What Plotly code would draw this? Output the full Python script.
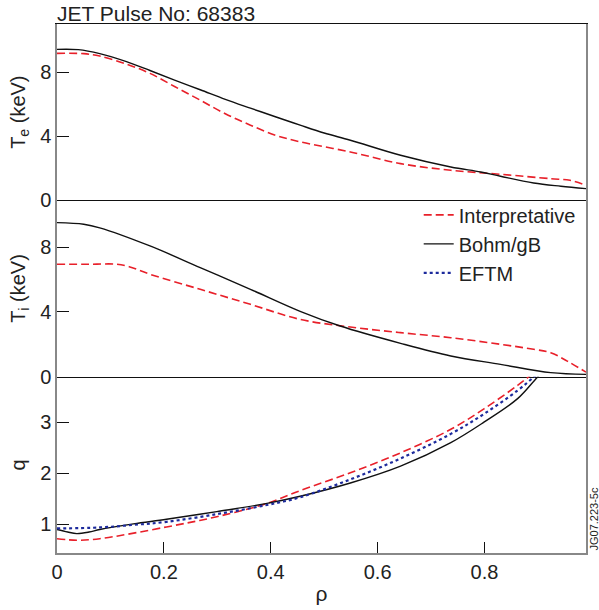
import plotly.graph_objects as go
from plotly.subplots import make_subplots

# ---- data ----
te_bohm_rho = [0, 0.04, 0.08, 0.13, 0.174, 0.22, 0.268, 0.315, 0.362, 0.41, 0.455, 0.5, 0.549, 0.643, 0.737, 0.793, 0.83, 0.892, 0.943, 0.99]
te_bohm = [9.42, 9.4, 9.15, 8.65, 8.1, 7.5, 6.9, 6.3, 5.75, 5.2, 4.69, 4.2, 3.75, 2.81, 2.08, 1.77, 1.5, 1.08, 0.88, 0.73]
te_int_rho = [0, 0.05, 0.08, 0.13, 0.174, 0.22, 0.268, 0.315, 0.362, 0.41, 0.455, 0.549, 0.643, 0.737, 0.83, 0.924, 0.96, 0.99]
te_int = [9.17, 9.15, 9.0, 8.5, 7.92, 7.1, 6.25, 5.4, 4.69, 4.05, 3.65, 3.02, 2.29, 1.875, 1.625, 1.35, 1.25, 0.94]

ti_bohm_rho = [0, 0.05, 0.08, 0.174, 0.268, 0.362, 0.455, 0.53, 0.643, 0.737, 0.83, 0.924, 0.99]
ti_bohm = [9.52, 9.42, 9.2, 8.08, 6.74, 5.4, 4.04, 3.13, 2.06, 1.28, 0.76, 0.25, 0.14]
ti_int_rho = [0, 0.06, 0.112, 0.135, 0.174, 0.268, 0.362, 0.455, 0.549, 0.643, 0.737, 0.83, 0.892, 0.924, 0.955, 0.99]
ti_int = [6.95, 6.95, 6.95, 6.8, 6.33, 5.4, 4.47, 3.54, 3.07, 2.72, 2.41, 2.0, 1.69, 1.48, 0.96, 0.28]

q_bohm_rho = [0, 0.02, 0.037, 0.06, 0.08, 0.143, 0.205, 0.299, 0.393, 0.455, 0.549, 0.643, 0.737, 0.799, 0.862, 0.899, 0.92]
q_bohm = [0.90, 0.85, 0.82, 0.85, 0.90, 1.01, 1.10, 1.25, 1.41, 1.55, 1.81, 2.14, 2.60, 3.0, 3.46, 3.88, 4.1]
q_int_rho = [0, 0.037, 0.08, 0.205, 0.299, 0.393, 0.455, 0.549, 0.643, 0.737, 0.799, 0.862, 0.883, 0.9]
q_int = [0.72, 0.69, 0.72, 0.95, 1.15, 1.41, 1.66, 2.01, 2.40, 2.86, 3.26, 3.72, 3.89, 4.05]
q_eftm_rho = [0, 0.08, 0.143, 0.205, 0.299, 0.393, 0.455, 0.549, 0.643, 0.737, 0.799, 0.862, 0.892, 0.91]
q_eftm = [0.92, 0.94, 0.99, 1.05, 1.20, 1.38, 1.53, 1.88, 2.29, 2.77, 3.16, 3.62, 3.88, 4.05]

x_ticks = [0, 0.2, 0.4, 0.6, 0.8]
x_tick_labels = ["0", "0.2", "0.4", "0.6", "0.8"]
t_ticks = [0, 4, 8]
q_ticks = [1, 2, 3]

RED = "#e8202a"
BLACK = "#111111"
BLUE = "#1c2a9c"
FONT = "Arial, Liberation Sans, sans-serif"

fig = make_subplots(rows=3, cols=1, shared_xaxes=True, vertical_spacing=0)

red_line = dict(color=RED, width=1.6, dash="8px,4px")
black_line = dict(color=BLACK, width=1.4)
blue_line = dict(color=BLUE, width=2.2, dash="dot")

fig.add_trace(go.Scatter(x=te_int_rho, y=te_int, mode="lines", line=red_line, line_shape="spline",
                         name="Interpretative", showlegend=True), row=1, col=1)
fig.add_trace(go.Scatter(x=te_bohm_rho, y=te_bohm, mode="lines", line=black_line, line_shape="spline",
                         name="Bohm/gB", showlegend=True), row=1, col=1)
fig.add_trace(go.Scatter(x=ti_int_rho, y=ti_int, mode="lines", line=red_line, line_shape="spline",
                         name="Interpretative", showlegend=False), row=2, col=1)
fig.add_trace(go.Scatter(x=ti_bohm_rho, y=ti_bohm, mode="lines", line=black_line, line_shape="spline",
                         name="Bohm/gB", showlegend=False), row=2, col=1)
fig.add_trace(go.Scatter(x=q_int_rho, y=q_int, mode="lines", line=red_line, line_shape="spline",
                         name="Interpretative", showlegend=False), row=3, col=1)
fig.add_trace(go.Scatter(x=q_bohm_rho, y=q_bohm, mode="lines", line=black_line, line_shape="spline",
                         name="Bohm/gB", showlegend=False), row=3, col=1)
fig.add_trace(go.Scatter(x=q_eftm_rho, y=q_eftm, mode="lines", line=blue_line, line_shape="spline",
                         name="EFTM", showlegend=True), row=3, col=1)

yaxis_common = dict(showline=True, linecolor="#888888", linewidth=1.5, mirror=True,
                    ticks="inside", ticklen=12, tickcolor=BLACK, tickwidth=1,
                    showgrid=False, zeroline=False, tickfont=dict(size=20, color="#222"),
                    title_font=dict(size=20, color="#222"), title_standoff=9, automargin=False)

fig.update_yaxes(range=[0, 11], tickvals=t_ticks, title_text="T<sub>e</sub> (keV)", row=1, col=1, **yaxis_common)
fig.update_yaxes(range=[0, 10.9], tickvals=t_ticks, title_text="T<sub>i</sub> (keV)", row=2, col=1, **yaxis_common)
fig.update_yaxes(range=[0.44, 3.89], tickvals=q_ticks, title_text="q", row=3, col=1, **yaxis_common)

fig.update_xaxes(range=[0, 0.99], showgrid=False, zeroline=False, automargin=False)
fig.update_xaxes(showline=True, linecolor=BLACK, linewidth=1.2, mirror=True, ticks="", row=1, col=1)
fig.update_xaxes(showline=True, linecolor=BLACK, linewidth=1.2, mirror=False, ticks="", row=2, col=1)
fig.update_xaxes(showline=True, linecolor="#888888", linewidth=1.5, mirror=False,
                 ticks="inside", ticklen=11, tickcolor=BLACK, tickvals=x_ticks, ticktext=x_tick_labels,
                 showticklabels=True, tickfont=dict(size=20, color="#222"),
                 title_text="ρ", title_font=dict(size=21, color="#222"), title_standoff=5, row=3, col=1)

fig.update_layout(
    width=599, height=610,
    margin=dict(l=57, r=13, t=24, b=57, autoexpand=False),
    paper_bgcolor="white", plot_bgcolor="white",
    font=dict(family=FONT, color="#222"),
    title=dict(text="JET Pulse No: 68383", x=57/599, xanchor="left", xref="container",
               y=1 - 21/610, yanchor="bottom", yref="container",
               font=dict(size=21, color="#222"), pad=dict(t=0, b=0, l=0, r=0)),
    legend=dict(x=0.99, xanchor="right", y=0.676, yanchor="top", bgcolor="rgba(0,0,0,0)",
                font=dict(size=20, color="#222"), tracegroupgap=0, itemwidth=30),
    showlegend=True,
)

fig.add_annotation(text="JG07.223-5c", xref="paper", yref="paper", x=1.0, xshift=7, y=0, yanchor="bottom",
                   xanchor="center", textangle=-90, showarrow=False, font=dict(size=11, color="#222"))

fig.write_html("out.html")
